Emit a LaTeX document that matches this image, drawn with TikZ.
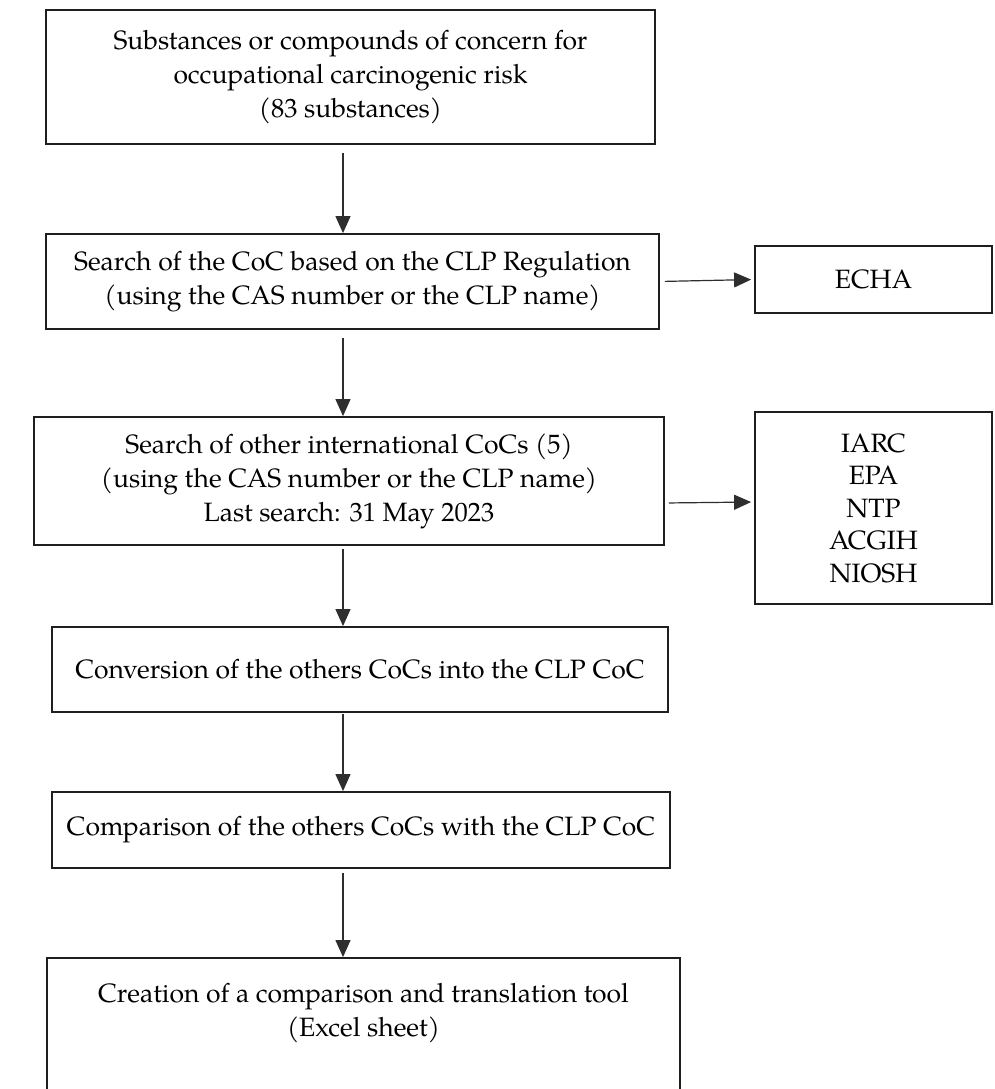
\documentclass[tikz,border=0pt]{standalone}
\usepackage{fontspec}
\setmainfont{texgyrepagella-regular.otf}
\usetikzlibrary{arrows.meta}
\begin{document}
\begin{tikzpicture}[x=1pt,y=-1pt,
  box/.style={draw=black!88, line width=1.8pt, rectangle, inner sep=0pt,
    align=center, font=\fontsize{26.5}{34}\selectfont},
  arr/.style={draw=black!82, line width=1.2pt, -{Triangle[length=17pt,width=15pt]}}]
\useasboundingbox (0,0) rectangle (995,1089);
\coordinate (xa) at (343,0);
\node[box, minimum width=609pt, minimum height=134pt] (b1) at (350.5,77)
  {Substances or compounds of concern for\\occupational carcinogenic risk\\(83 substances)};
\node[box, minimum width=613pt, minimum height=95pt] (b2) at (352.5,281.5)
  {Search of the CoC based on the CLP Regulation\\(using the CAS number or the CLP name)};
\node[box, minimum width=237pt, minimum height=67pt] (echa) at (873.5,279.5) {ECHA};
\node[box, minimum width=630pt, minimum height=128pt] (b3) at (349,481)
  {Search of other international CoCs (5)\\(using the CAS number or the CLP name)\\Last search: 31 May 2023};
\node[box, minimum width=237pt, minimum height=192pt, font=\fontsize{26.5}{32.5}\selectfont] (iarc) at (873.5,508)
  {IARC\\EPA\\NTP\\ACGIH\\NIOSH};
\node[box, minimum width=616pt, minimum height=85pt] (b4) at (360,669.5)
  {Conversion of the others CoCs into the CLP CoC};
\node[box, minimum width=618pt, minimum height=76pt] (b5) at (361,830)
  {Comparison of the others CoCs with the CLP CoC};
\node[box, minimum width=633pt, minimum height=138pt] (b6) at (363.5,1027)
  {Creation of a comparison and translation tool\\(Excel sheet)\\\mbox{}};
\draw[arr, shorten <=8pt] (b1.south -| xa) -- (b2.north -| xa);
\draw[arr, shorten <=8pt] (b2.south -| xa) -- (b3.north -| xa);
\draw[arr, shorten <=3pt] (b3.south -| xa) -- (b4.north -| xa);
\draw[arr, shorten <=1pt] (b4.south -| xa) -- (b5.north -| xa);
\draw[arr, shorten <=4pt] (b5.south -| xa) -- (b6.north -| xa);
\draw[arr, shorten <=5pt, shorten >=3pt] (b2.east) -- (echa.west);
\draw[arr, shorten <=4pt, shorten >=3pt] ([yshift=-22pt]b3.east) -- ([yshift=6pt]iarc.west);
\end{tikzpicture}
\end{document}
